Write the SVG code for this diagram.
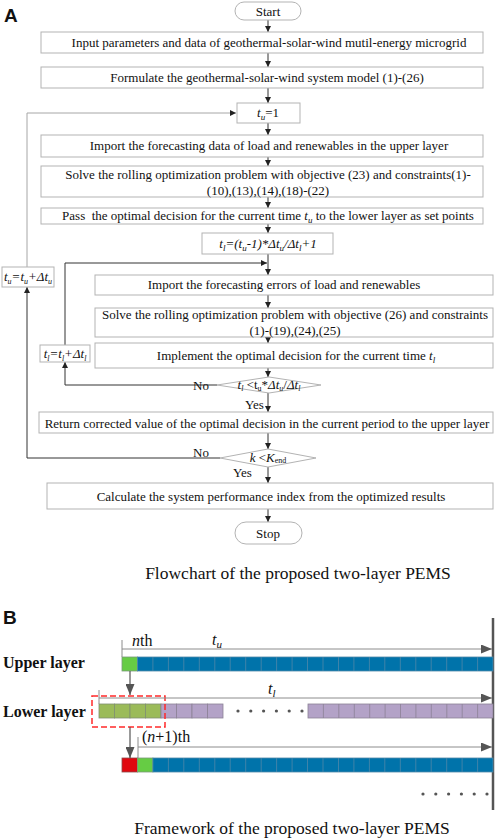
<svg xmlns="http://www.w3.org/2000/svg" width="498" height="839" viewBox="0 0 498 839">
<style>
.t{font-family:"Liberation Serif","Times New Roman",serif;font-size:13px;fill:#111}
.c{text-anchor:middle}
.i{font-style:italic}
.box{fill:#fff;stroke:#b3b3b3;stroke-width:1}
.ln{fill:none;stroke:#333;stroke-width:1}
.lg{fill:none;stroke:#a6a6a6;stroke-width:1}
.lab{font-family:"Liberation Sans",Arial,sans-serif;font-weight:bold;font-size:19px;fill:#111}
.cap{font-family:"Liberation Serif","Times New Roman",serif;font-size:17.5px;fill:#111;text-anchor:middle}
.bl{font-family:"Liberation Serif","Times New Roman",serif;font-weight:bold;font-size:16px;fill:#111}
.bt{font-family:"Liberation Serif","Times New Roman",serif;font-size:16px;fill:#111}
.ba{fill:none;stroke:#8c8c8c;stroke-width:1}
.blue{fill:#0073aa;stroke:#4f88a8;stroke-width:0.8}
.g1{fill:#66cc44;stroke:#7a9a7a;stroke-width:0.8}
.g2{fill:#9bbb59;stroke:#7f8f70;stroke-width:0.8}
.pu{fill:#b3a2c7;stroke:#8c8296;stroke-width:0.8}
.rd{fill:#e0080f;stroke:#8a4a4a;stroke-width:0.8}
.dot{fill:#555}
</style>
<defs>
<marker id="ah" viewBox="0 0 6 6" refX="6" refY="3" markerWidth="6" markerHeight="6" markerUnits="userSpaceOnUse" orient="auto"><path d="M0,0 L6,3 L0,6 z" fill="#222"/></marker>
<marker id="bh" viewBox="0 0 11 9" refX="11" refY="4.5" markerWidth="11" markerHeight="9" markerUnits="userSpaceOnUse" orient="auto"><path d="M0,0 L11,4.5 L0,9 z" fill="#555"/></marker>
</defs>

<text class="lab" x="4" y="22">A</text>

<g id="connectors">
<path class="ln" marker-end="url(#ah)" d="M268,20 V32"/>
<path class="ln" marker-end="url(#ah)" d="M268,53 V67"/>
<path class="ln" marker-end="url(#ah)" d="M268,88 V103"/>
<path class="ln" marker-end="url(#ah)" d="M268,123 V135"/>
<path class="ln" marker-end="url(#ah)" d="M268,157 V166"/>
<path class="ln" marker-end="url(#ah)" d="M268,197 V208"/>
<path class="ln" marker-end="url(#ah)" d="M268,224 V233"/>
<path class="ln" marker-end="url(#ah)" d="M268,254 V275"/>
<path class="ln" marker-end="url(#ah)" d="M268,295 V308"/>
<path class="ln" marker-end="url(#ah)" d="M268,337 V343"/>
<path class="ln" marker-end="url(#ah)" d="M268,368 V377"/>
<path class="ln" marker-end="url(#ah)" d="M268,393 V412"/>
<path class="ln" marker-end="url(#ah)" d="M268,433 V449"/>
<path class="ln" marker-end="url(#ah)" d="M268,467 V483"/>
<path class="ln" marker-end="url(#ah)" d="M268,509 V522"/>
<path class="ln" marker-end="url(#ah)" d="M217,385 H65 V362"/>
<path class="ln" marker-end="url(#ah)" d="M65,345 V263 H267"/>
<path class="ln" marker-end="url(#ah)" d="M220,458 H27 V287"/>
<path class="lg" marker-end="url(#ah)" d="M27,267 V113 H236"/>
</g>

<g id="start"><rect class="box" x="235" y="2" width="66" height="18" rx="9"/><text class="t c" x="268" y="16">Start</text></g>
<g id="input"><rect class="box" x="41" y="32" width="442" height="21"/><text class="t c" x="269" y="47">Input parameters and data of geothermal-solar-wind mutil-energy microgrid</text></g>
<g id="formulate"><rect class="box" x="41" y="67" width="442" height="21"/><text class="t c" x="267" y="82">Formulate the geothermal-solar-wind system model (1)-(26)</text></g>
<g id="tu1"><rect class="box" x="237" y="103" width="63" height="20"/><text class="t c" x="268" y="117"><tspan class="i">t</tspan><tspan class="i" font-size="9" dy="3">u</tspan><tspan dy="-3">=1</tspan></text></g>
<g id="import-upper"><rect class="box" x="41" y="135" width="442" height="22"/><text class="t c" x="269" y="150">Import the forecasting data of load and renewables in the upper layer</text></g>
<g id="solve-upper"><rect class="box" x="41" y="166" width="442" height="31"/><text class="t c" x="268" y="179">Solve the rolling optimization problem with objective (23) and constraints(1)-</text><text class="t c" x="268" y="195">(10),(13),(14),(18)-(22)</text></g>
<g id="pass"><rect class="box" x="41" y="208" width="442" height="16"/><text class="t c" x="268" y="220" style="white-space:pre">Pass  the optimal decision for the current time <tspan class="i">t</tspan><tspan class="i" font-size="9" dy="3">u</tspan><tspan dy="-3"> to the lower layer as set points</tspan></text></g>
<g id="tl-init"><rect class="box" x="202" y="233" width="131" height="21"/><text class="t c i" x="268" y="248">t<tspan font-size="9" dy="3">l</tspan><tspan dy="-3">=(t</tspan><tspan font-size="9" dy="3">u</tspan><tspan dy="-3">-1)*Δt</tspan><tspan font-size="9" dy="3">u</tspan><tspan dy="-3">/Δt</tspan><tspan font-size="9" dy="3">l</tspan><tspan dy="-3">+1</tspan></text></g>
<g id="tu-inc"><rect class="box" x="2" y="267" width="52" height="20"/><text class="t c i" x="28" y="281" font-size="12">t<tspan font-size="8" dy="3">u</tspan><tspan dy="-3">=t</tspan><tspan font-size="8" dy="3">u</tspan><tspan dy="-3">+Δt</tspan><tspan font-size="8" dy="3">u</tspan></text></g>
<g id="import-lower"><rect class="box" x="95" y="275" width="398" height="20"/><text class="t c" x="284" y="289">Import the forecasting errors of load and renewables</text></g>
<g id="solve-lower"><rect class="box" x="95" y="308" width="398" height="29"/><text class="t c" x="295" y="319">Solve the rolling optimization problem with objective (26) and constraints</text><text class="t c" x="295" y="335">(1)-(19),(24),(25)</text></g>
<g id="tl-inc"><rect class="box" x="40" y="345" width="50" height="17"/><text class="t c i" x="65" y="358" font-size="12">t<tspan font-size="8" dy="3">l</tspan><tspan dy="-3">=t</tspan><tspan font-size="8" dy="3">l</tspan><tspan dy="-3">+Δt</tspan><tspan font-size="8" dy="3">l</tspan></text></g>
<g id="implement"><rect class="box" x="95" y="343" width="398" height="25"/><text class="t c" x="296" y="360">Implement the optimal decision for the current time <tspan class="i">t</tspan><tspan class="i" font-size="9" dy="3">l</tspan></text></g>
<g id="cond-tl"><polygon class="box" points="217,385 269,377 321,385 269,393"/><text class="t c" x="269" y="389" font-size="11"><tspan class="i">t</tspan><tspan class="i" font-size="8" dy="2">l</tspan><tspan dy="-2"> &lt;t</tspan><tspan font-size="8" dy="2">u</tspan><tspan dy="-2">*</tspan><tspan class="i">Δt</tspan><tspan class="i" font-size="8" dy="2">u</tspan><tspan dy="-2">/</tspan><tspan class="i">Δt</tspan><tspan class="i" font-size="8" dy="2">l</tspan></text>
<text class="t" x="193" y="390">No</text><text class="t" x="245" y="409">Yes</text></g>
<g id="return"><rect class="box" x="39" y="412" width="454" height="21"/><text class="t c" x="267" y="428">Return corrected value of the optimal decision in the current period to the upper layer</text></g>
<g id="cond-k"><polygon class="box" points="220,458 268,449 316,458 268,467"/><text class="t c" x="268" y="462" font-size="12"><tspan class="i">k</tspan> &lt;<tspan class="i">K</tspan><tspan font-size="8" dy="1">end</tspan></text>
<text class="t" x="193" y="457">No</text><text class="t" x="233" y="477">Yes</text></g>
<g id="calculate"><rect class="box" x="47" y="483" width="446" height="26"/><text class="t c" x="271" y="501">Calculate the system performance index from the optimized results</text></g>
<g id="stop"><rect class="box" x="235" y="522" width="67" height="22" rx="11"/><text class="t c" x="268" y="538">Stop</text></g>

<text class="cap" x="298" y="579">Flowchart of the proposed two-layer PEMS</text>

<text class="lab" x="3" y="624">B</text>

<g id="framework">
<line x1="493" y1="618" x2="493" y2="810" stroke="#555" stroke-width="2.5"/>
<text class="bl" x="3" y="668">Upper layer</text>
<text class="bl" x="3" y="717">Lower layer</text>
<text class="bt" x="132" y="646"><tspan class="i">n</tspan>th</text>
<text class="bt i" x="212" y="645">t<tspan font-size="11" dy="3">u</tspan></text>
<text class="bt i" x="268" y="694">t<tspan font-size="11" dy="3">l</tspan></text>
<text class="bt" x="142" y="742">(<tspan class="i">n</tspan>+1)th</text>

<g id="upper-bar">
<rect class="g1" x="122" y="657" width="15.46" height="14"/>
<rect class="blue" x="137.46" y="657" width="355.54" height="14"/>
<path stroke="#4f88a8" stroke-width="0.8" d="M152.9,657v14M168.4,657v14M183.8,657v14M199.3,657v14M214.8,657v14M230.2,657v14M245.7,657v14M261.2,657v14M276.6,657v14M292.1,657v14M307.5,657v14M323,657v14M338.5,657v14M353.9,657v14M369.4,657v14M384.8,657v14M400.3,657v14M415.8,657v14M431.2,657v14M446.7,657v14M462.1,657v14M477.6,657v14"/>
</g>

<g id="lower-bar">
<rect class="g2" x="99" y="704" width="15.5" height="14"/><rect class="g2" x="114.5" y="704" width="15.5" height="14"/><rect class="g2" x="130" y="704" width="15.5" height="14"/><rect class="g2" x="145.5" y="704" width="15.5" height="14"/>
<rect class="pu" x="161" y="704" width="15.5" height="14"/><rect class="pu" x="176.5" y="704" width="15.5" height="14"/><rect class="pu" x="192" y="704" width="15.5" height="14"/><rect class="pu" x="207.5" y="704" width="15.5" height="14"/>
<rect class="pu" x="308" y="704" width="185" height="14"/>
<path stroke="#8c8296" stroke-width="0.8" d="M323.4,704v14M338.8,704v14M354.3,704v14M369.7,704v14M385.1,704v14M400.5,704v14M415.9,704v14M431.3,704v14M446.8,704v14M462.2,704v14M477.6,704v14"/>
<circle class="dot" cx="238" cy="711" r="1.6"/><circle class="dot" cx="250.8" cy="711" r="1.6"/><circle class="dot" cx="263.6" cy="711" r="1.6"/><circle class="dot" cx="276.4" cy="711" r="1.6"/><circle class="dot" cx="289.2" cy="711" r="1.6"/><circle class="dot" cx="302" cy="711" r="1.6"/>
</g>

<g id="next-bar">
<rect class="rd" x="122" y="758" width="15.46" height="14"/>
<rect class="g1" x="137.46" y="758" width="15.46" height="14"/>
<rect class="blue" x="152.92" y="758" width="340.08" height="14"/>
<path stroke="#4f88a8" stroke-width="0.8" d="M168.4,758v14M183.8,758v14M199.3,758v14M214.8,758v14M230.2,758v14M245.7,758v14M261.2,758v14M276.6,758v14M292.1,758v14M307.5,758v14M323,758v14M338.5,758v14M353.9,758v14M369.4,758v14M384.8,758v14M400.3,758v14M415.8,758v14M431.2,758v14M446.7,758v14M462.1,758v14M477.6,758v14"/>
</g>

<circle class="dot" cx="423" cy="794" r="1.6"/><circle class="dot" cx="435.8" cy="794" r="1.6"/><circle class="dot" cx="448.6" cy="794" r="1.6"/><circle class="dot" cx="461.4" cy="794" r="1.6"/><circle class="dot" cx="474.2" cy="794" r="1.6"/><circle class="dot" cx="487" cy="794" r="1.6"/>

<rect x="92" y="696" width="73" height="31" fill="none" stroke="#ff2a2a" stroke-width="1.5" stroke-dasharray="6,3"/>
</g>

<g id="framework-connectors">
<path class="ba" d="M122,640 V657"/>
<path class="ba" marker-end="url(#bh)" d="M122,649 H492"/>
<path class="ba" d="M99,690 V704"/>
<path class="ba" marker-end="url(#bh)" d="M99,698 H492"/>
<path class="ba" d="M138,737 V758"/>
<path class="ba" marker-end="url(#bh)" d="M138,747 H492"/>
<path fill="none" stroke="#555" stroke-width="1.2" marker-end="url(#bh)" d="M130,671 V695"/>
<path fill="none" stroke="#555" stroke-width="1.2" marker-end="url(#bh)" d="M130,727 V758"/>
</g>

<text class="cap" x="292" y="834">Framework of the proposed two-layer PEMS</text>
</svg>
